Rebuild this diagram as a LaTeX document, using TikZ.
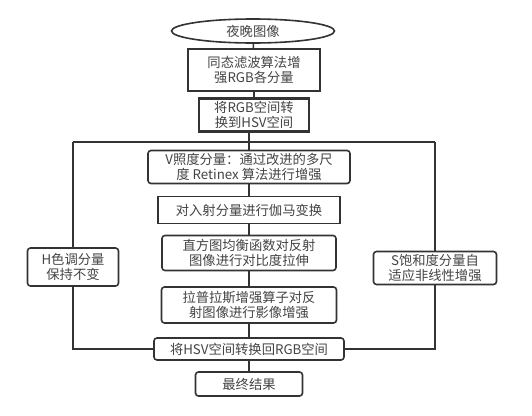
\documentclass[tikz,border=0pt]{standalone}
\usepackage{fontspec}
\setmainfont{Noto Sans CJK SC}
\usetikzlibrary{shapes.geometric}
\definecolor{ln}{HTML}{333333}
\definecolor{tx}{HTML}{444444}
\tikzset{
  x=1pt,y=-1pt,
  base/.style={draw=ln,line width=1.6pt,fill=white,text=tx,align=center,inner sep=0pt,font=\fontsize{13.3}{15.5}\selectfont},
  sq/.style={base},
  sqt/.style={base,line width=2.2pt},
  rbox/.style={base,rounded corners=3pt},
  conn/.style={draw=ln,line width=1.6pt},
}
\begin{document}
\begin{tikzpicture}
\useasboundingbox (0,0) rectangle (532,415);
\node[base,ellipse,minimum width=163pt,minimum height=24pt] (start) at (253,31) {夜晚图像};
\node[sqt,minimum width=132pt,minimum height=42pt] (homo) at (254,70) {同态滤波算法增\\强RGB各分量};
\node[sqt,minimum width=110pt,minimum height=33pt] (tohsv) at (254,115) {将RGB空间转\\换到HSV空间};
\coordinate (split) at (249,142);
\coordinate (sl) at (73,142);
\coordinate (sr) at (435,142);
\node[rbox,minimum width=202pt,minimum height=33pt] (v) at (249,167) {V照度分量：通过改进的多尺\\度 Retinex 算法进行增强};
\node[sq,minimum width=182pt,minimum height=27pt] (gamma) at (249,210) {对入射分量进行伽马变换};
\node[rbox,minimum width=174pt,minimum height=35pt] (hist) at (249,253) {直方图均衡函数对反射\\图像进行对比度拉伸};
\node[rbox,minimum width=91pt,minimum height=38pt] (h) at (73,267) {H色调分量\\保持不变};
\node[rbox,minimum width=123pt,minimum height=33pt] (s) at (435,268) {S饱和度分量自\\适应非线性增强};
\node[rbox,minimum width=175pt,minimum height=36pt] (lap) at (249,305) {拉普拉斯增强算子对反\\射图像进行影像增强};
\node[rbox,minimum width=190pt,minimum height=22pt] (torgb) at (249,349) {将HSV空间转换回RGB空间};
\node[rbox,minimum width=107pt,minimum height=24pt] (final) at (249,384) {最终结果};
\draw[conn] (start) -- (homo);
\draw[conn] (homo.south -| tohsv) -- (tohsv);
\draw[conn] (tohsv.south -| split) -- (v);
\draw[conn] (sl) -- (sr);
\draw[conn] (sl) -- (h);
\draw[conn] (sr) -- (s);
\draw[conn] (v) -- (gamma);
\draw[conn] (gamma) -- (hist);
\draw[conn] (hist) -- (lap);
\draw[conn] (lap) -- (torgb);
\draw[conn] (torgb) -- (final);
\draw[conn] (h) |- (torgb);
\draw[conn] (s) |- (torgb);
\end{tikzpicture}
\end{document}
